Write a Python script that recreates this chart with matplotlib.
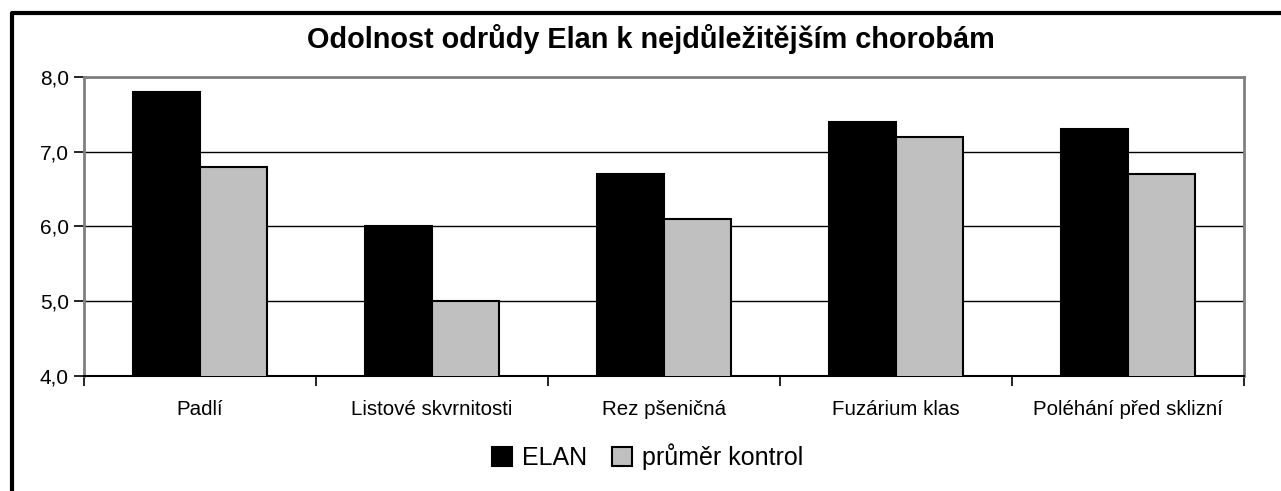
import numpy as np
import matplotlib
matplotlib.use("Agg")
import matplotlib.pyplot as plt
from matplotlib.lines import Line2D
from matplotlib.ticker import FuncFormatter

categories = ["Padlí", "Listové skvrnitosti", "Rez pšeničná", "Fuzárium klas", "Poléhání před sklizní"]
elan = [7.8, 6.0, 6.7, 7.4, 7.3]
kontrol = [6.8, 5.0, 6.1, 7.2, 6.7]
series_names = ["ELAN", "průměr kontrol"]
title = "Odolnost odrůdy Elan k nejdůležitějším chorobám"

plt.rcParams['font.family'] = ['Liberation Sans', 'DejaVu Sans']

W, H = 1281, 491
fig = plt.figure(figsize=(W / 100, H / 100), dpi=100)
ax = fig.add_axes([84 / W, 115 / H, (1244 - 84) / W, (376 - 77) / H])

x = np.arange(len(categories))
bw = 0.29
ax.bar(x - bw / 2, elan, bw, color="black", edgecolor="black", linewidth=1.5,
       label=series_names[0], zorder=3)
ax.bar(x + bw / 2, kontrol, bw, color="#c0c0c0", edgecolor="black", linewidth=1.5,
       label=series_names[1], zorder=3)

ax.set_xlim(-0.5, len(categories) - 0.5)
ax.set_ylim(4, 8)
ax.set_yticks([4, 5, 6, 7, 8])
ax.yaxis.set_major_formatter(FuncFormatter(lambda v, p: f"{v:.1f}".replace(".", ",")))
ax.set_xticks(np.arange(len(categories) + 1) - 0.5)
ax.set_xticklabels([])
ax.set_xticks(x, minor=True)
ax.set_xticklabels(categories, minor=True)
ax.tick_params(axis="x", which="minor", length=0, pad=17, labelsize=14.8)
ax.tick_params(axis="x", which="major", length=7, width=1.2, direction="out", color="black")
ax.tick_params(axis="y", length=7, width=1.2, direction="out", labelsize=15, pad=4)
ax.yaxis.grid(True, color="black", linewidth=1, zorder=0)

for s in ["left", "top", "right"]:
    ax.spines[s].set_color("#808080")
    ax.spines[s].set_linewidth(2)
ax.spines["bottom"].set_color("black")
ax.spines["bottom"].set_linewidth(1.5)

fig.text(651 / W, 1 - 39 / H, title, ha="center", va="center", fontsize=20.8, fontweight="bold")

leg = fig.legend(loc="center", bbox_to_anchor=(648 / W, 1 - 457 / H), ncol=2, frameon=False,
                 fontsize=18, handlelength=0.8, handleheight=0.8, handletextpad=0.4, columnspacing=1.0)

# outer chart border (left and top visible)
fig.add_artist(Line2D([12 / W, 12 / W, 1.0], [0.0, 1 - 13 / H, 1 - 13 / H],
                      transform=fig.transFigure, color="black", linewidth=3))

fig.savefig("out.png", dpi=100)
